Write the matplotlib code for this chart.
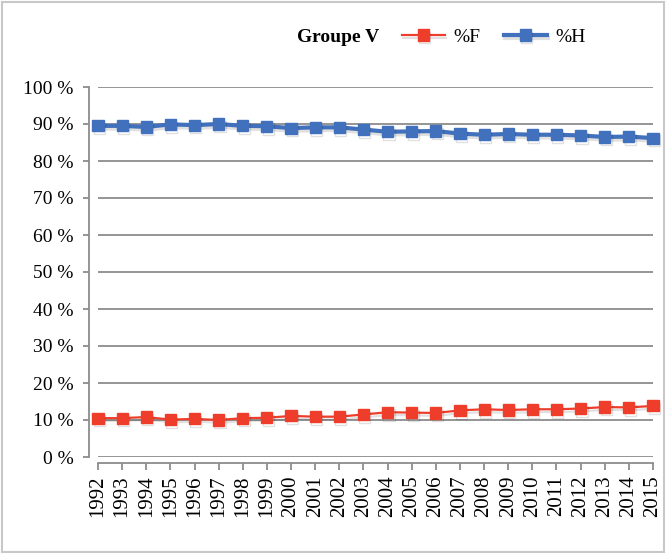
import matplotlib.pyplot as plt
import matplotlib.patheffects as pe
from matplotlib.patches import Rectangle

years = ['1992', '1993', '1994', '1995', '1996', '1997', '1998', '1999', '2000', '2001',
         '2002', '2003', '2004', '2005', '2006', '2007', '2008', '2009', '2010', '2011',
         '2012', '2013', '2014', '2015']
pct_f = [10.5, 10.5, 10.8, 10.1, 10.3, 10.0, 10.5, 10.6, 11.1, 10.9, 10.9, 11.5,
         12.1, 12.0, 11.9, 12.6, 12.9, 12.7, 12.9, 12.9, 13.1, 13.5, 13.4, 13.8]
pct_h = [89.5, 89.5, 89.2, 89.9, 89.7, 90.0, 89.5, 89.4, 88.9, 89.1, 89.1, 88.5,
         87.9, 88.0, 88.1, 87.4, 87.1, 87.3, 87.1, 87.1, 86.9, 86.5, 86.6, 86.2]
y_ticks = [0, 10, 20, 30, 40, 50, 60, 70, 80, 90, 100]

red = '#ee3e2b'
blue = '#4170bd'
grey = '#8c8c8c'
plt.rcParams['font.family'] = ['Liberation Serif', 'DejaVu Serif']

fig = plt.figure(figsize=(6.66, 5.53), dpi=100)
ax = fig.add_axes([98/666, 1-457/553, (653-98)/666, (457-87)/553])
fig.patches.append(Rectangle((0.003, 0.002), 0.994, 0.995, transform=fig.transFigure,
                             fill=False, edgecolor='#c8c8c8', lw=1.5))

x = list(range(len(years)))
shadow = [pe.SimpleLineShadow(offset=(1, -2), alpha=0.12, shadow_color='k'), pe.Normal()]
lf, = ax.plot(x, pct_f, color=red, lw=1.6, marker='s', ms=8, label='%F',
              clip_on=False, zorder=3, path_effects=shadow)
lh, = ax.plot(x, pct_h, color=blue, lw=3, marker='s', ms=8, label='%H',
              clip_on=False, zorder=3, path_effects=shadow)

for s in ['top', 'right']:
    ax.spines[s].set_visible(False)
ax.spines['left'].set_position(('outward', 6.5))
ax.spines['bottom'].set_position(('outward', 4.5))
for s in ['left', 'bottom']:
    ax.spines[s].set_color(grey)
    ax.spines[s].set_linewidth(1.3)
ax.tick_params(axis='y', length=4, width=1.3, color=grey, pad=7, labelsize=14)
ax.tick_params(axis='x', length=5, width=1.3, color=grey, pad=4, labelsize=15,
               labelrotation=90)

ax.set_xlim(0, len(years) - 1)
ax.set_ylim(0, 100)
ax.set_yticks(y_ticks)
ax.set_yticklabels([f'{v} %' for v in y_ticks])
ax.set_xticks(x)
ax.set_xticklabels(years)
ax.yaxis.grid(True, color=grey, lw=1.3)
ax.set_axisbelow(True)

fig.text(297/666, 1-38/553, 'Groupe V', fontsize=14,
         fontweight='bold', va='center', ha='left')
fig.legend(handles=[lf, lh], loc='center left', bbox_to_anchor=(402/666, 1-37/553),
           ncol=2, frameon=False, borderaxespad=0, borderpad=0, handlelength=2.2,
           handletextpad=0.45, columnspacing=1.2, fontsize=14)

fig.savefig('out.png', dpi=100)
